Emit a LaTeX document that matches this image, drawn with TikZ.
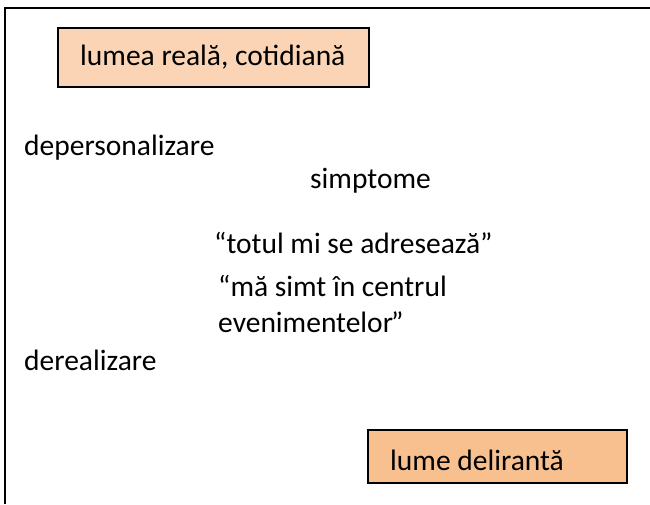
\documentclass[tikz,border=0pt]{standalone}
\usepackage{fontspec}
\setmainfont{Carlito}
\definecolor{peachlight}{HTML}{FAD4B5}
\definecolor{peachdark}{HTML}{F8C08F}
\begin{document}
\begin{tikzpicture}[x=1pt,y=-1pt,
        every node/.style={font=\fontsize{29.5}{35}\selectfont,inner sep=0pt,anchor=base west},
        box/.style={draw=black,line width=1.5pt}]
    \useasboundingbox (0,0) rectangle (650,504);
    \draw[line width=2pt] (5,504) -- (5,8) -- (650,8);
    \filldraw[box,fill=peachlight] (58,28) rectangle (369,87);
    \filldraw[box,fill=peachdark] (368,430) rectangle (627,483);
    \node (real) at (80,65) {lumea reală, cotidiană};
    \node (deperson) at (24,155) {depersonalizare};
    \node (simpt) at (310,188) {simptome};
    \node (totul) at (214,253) {“totul mi se adresează”};
    \node (centru) at (218,296) {“mă simt în centrul};
    \node (evenim) at (218,332) {evenimentelor\kern-2pt”};
    \node (dereal) at (24,370) {derealizare};
    \node (delir) at (390,470) {lume delirantă};
\end{tikzpicture}
\end{document}
